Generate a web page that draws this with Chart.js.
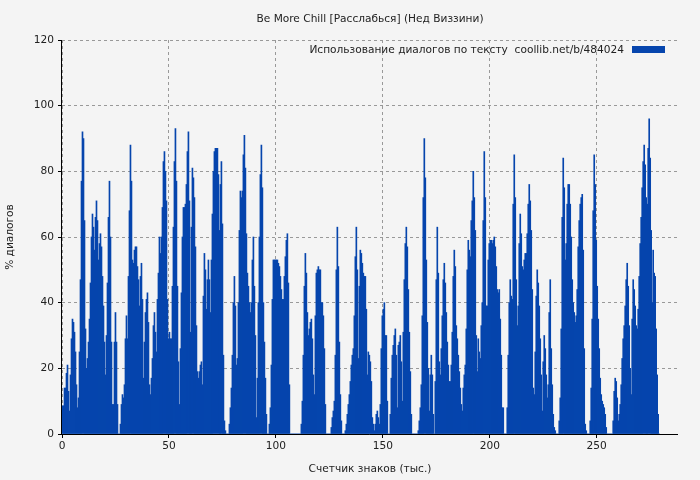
<!DOCTYPE html>
<html><head><meta charset="utf-8">
<script src="https://cdn.jsdelivr.net/npm/chart.js@4/dist/chart.umd.min.js"></script>
<style>html,body{margin:0;padding:0;background:#f4f4f4}#w{width:700px;height:480px}</style>
</head><body><div id="w"><canvas id="c"></canvas></div>
<script>
const title = "Be More Chill [Расслабься] (Нед Виззини)";
const seriesLabel = "Использование диалогов по тексту  coollib.net/b/484024";
const xTitle = "Счетчик знаков (тыс.)";
const yTitle = "% диалогов";
const xStep = 1/2.14; // thousand chars per sample
const part1 = [8.6,8.6,14,14,18.5,21,13,7,18,29,35,34,31,25,15,8,11,25,47,77,92,90,65,32,20,23,28,35,46,60,67,63,56,66,71,65,53,58,61,57,48,39,28,18,30,46,66,77,60,28,9,9,28,37,28,9,0,0,3,9,12,11,15,29,36,29,48,68,88,77,53,52,56,57,57,51,47,39,48,52,41,17,28,37,41,43,34,15,12,17,23,33,37,31,25,41,49,60,55,60,69,83,86,80,71,41,29,31];
const part2 = [29,29,45,63,83,93,77,45,22,9,26,43,60,69,69,70,76,86,92,71,31,63,81,78,72,57,33,19,17,19,21,22,15,42,55,50,38,47,53,47,37,53,67,80,86,87,87,87,79,62,76,83,64,24,4,1,0,0,0,3,8,14,24,40,48,39,21,23,40,62,74,72,74,85,91,81,61,49,45,40,37,40,53,60,45,30,5,17,40,60,79,88,75,40,28,17,6,0,0,3,8,21,41,53,53,53,53,53];
const part3 = [52,51,48,44,41,41,48,54,59,61,46,15,0,0,0,0,0,0,0,0,0,0,0,3,10,24,45,55,49,37,30,32,34,35,29,18,12,36,49,50,51,50,50,40,40,36,26,9,0,0,0,0,0,2,5,7,10,24,50,63,51,28,12,4,0,0,0,1,3,6,9,12,16,21,24,26,36,54,63,50,23,45,56,55,52,49,48,48,38,18,25,24,22,16,5,3,1,3,6,7,5,3,9,26,36,38,40,30];
const part4 = [30,10,0,0,6,17,24,27,30,32,24,8,27,28,30,22,10,31,47,58,63,57,44,31,19,6,0,0,0,0,0,0,1,4,8,15,36,72,90,78,53,34,20,7,18,24,18,6,0,16,47,63,49,22,18,26,36,47,52,46,37,28,21,16,16,21,31,48,56,51,33,29,24,19,14,9,7,14,18,21,32,50,59,56,54,65,71,80,72,62,30,19,29,25,23,33,40,65,86,72,39,39,53,58,59,59];
const part5 = [58,59,60,57,51,44,43,44,35,24,8,8,0,0,0,8,24,40,47,42,41,70,85,72,47,33,39,58,67,61,51,50,53,55,55,61,70,76,71,62,44,14,12,25,42,50,46,39,29,18,7,22,30,26,18,11,15,37,47,26,15,6,2,1,0,0,0,4,11,32,66,84,75,53,58,70,76,76,70,60,47,40,37,34,36,44,57,65,70,72,73,56,26,3,1,0,0,0,4,14,35,68,85,76];
const part6 = [59,45,35,26,17,12,10,9,8,6,2,0,0,0,0,0,0,4,13,17,16,11,4,6,9,15,23,29,33,39,47,52,45,33,20,12,35,47,44,39,33,32,38,48,58,66,75,83,88,82,72,70,87,96,84,62,40,56,49,48,32,18,6,0];
const values = [].concat(part1,part2,part3,part4,part5,part6);
const xTicks = [0,50,100,150,200,250];
const yTicks = [0,20,40,60,80,100,120];
const blue = "#0645ad";
const font = "'DejaVu Sans'";
const pts = values.map((v,i)=>({x:(i+0.5)*xStep, y:v}));

const deco = {id:'deco', afterDraw(ch){
  const c=ch.ctx, a=ch.chartArea;
  c.save();
  c.fillStyle="#222"; c.font="10.6px "+font; c.textAlign="center"; c.textBaseline="middle";
  c.fillText(title, (a.left+a.right)/2, 19);
  c.textAlign="right";
  c.fillText(seriesLabel, 624, 50);
  c.fillStyle=blue; c.fillRect(632,46,33,7);
  c.strokeStyle="#000"; c.lineWidth=1;
  c.beginPath(); c.moveTo(a.left-0.5,a.top); c.lineTo(a.left-0.5,a.bottom+0.5); c.lineTo(a.right,a.bottom+0.5); c.stroke();
  c.restore();
}};

Chart.defaults.font.family = font;
Chart.defaults.font.size = 10.6;
Chart.defaults.color = "#222";
new Chart(document.getElementById('c'), {
  type:'bar',
  data:{datasets:[{label:seriesLabel, data:pts, backgroundColor:blue, borderWidth:0, barPercentage:1, categoryPercentage:1, grouped:false}]},
  options:{
    responsive:true, maintainAspectRatio:false, animation:false,
    layout:{padding:{top:40,right:22,left:0,bottom:0}},
    plugins:{legend:{display:false}, title:{display:false}, tooltip:{enabled:false}},
    scales:{
      x:{type:'linear', min:0, max:288, offset:false,
        afterBuildTicks(s){s.ticks=xTicks.map(v=>({value:v}));},
        afterFit(s){s.height=46;},
        grid:{offset:false, color:"#999", lineWidth:1, tickLength:4, tickColor:"#000", drawTicks:true},
        border:{display:false, dash:[3,3]},
        ticks:{padding:2, maxRotation:0},
        title:{display:true, text:xTitle, padding:{top:4}}},
      y:{min:0, max:120,
        afterBuildTicks(s){s.ticks=yTicks.map(v=>({value:v}));},
        afterFit(s){s.width=62;},
        grid:{color:"#999", tickLength:4, tickColor:"#000"},
        border:{display:false, dash:[3,3]},
        ticks:{padding:4},
        title:{display:true, text:yTitle, padding:{bottom:6}}}
    }
  },
  plugins:[deco]
});
</script></body></html>
